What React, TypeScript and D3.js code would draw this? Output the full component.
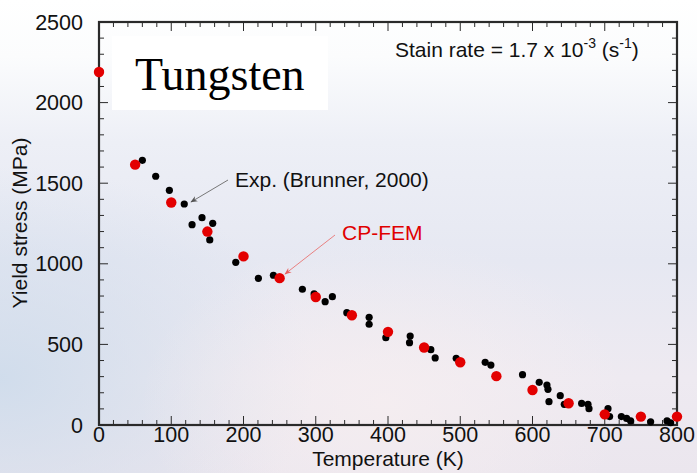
import React from "react";
import * as d3 from "d3";

const cpTemps = [0, 50, 100, 150, 200, 250, 300, 350, 400, 450, 500, 550, 600, 650, 700, 750, 800];
const cpStress = [2190, 1615, 1380, 1200, 1046, 911, 794, 681, 578, 481, 389, 303, 217, 135, 66, 52, 52];

const expTemps = [60, 78.5, 97.4, 118, 128.8, 142.6, 157.4, 153.3, 189.3, 220.6, 241.4, 281.5, 297.7, 313, 323, 343, 373.9, 373.9, 397, 430.7, 429.8, 459.3, 465.3, 494.4, 534.5, 542.4, 586.2, 609.3, 620, 621.4, 622.8, 638.4, 644, 668, 676.8, 678.2, 704.5, 706.7, 723, 730.3, 735.8, 763.5, 786.2, 791.2];
const expStress = [1642, 1543, 1456, 1371, 1243, 1286, 1251, 1148, 1009, 910, 929, 842, 813, 765, 796, 697, 668, 625, 542, 552, 511, 467, 416, 414, 389, 372, 312, 265, 248, 221, 145, 182, 128, 134, 128, 101, 101, 52, 52, 41, 25, 20, 25, 14];

const xTickLabels = [0, 100, 200, 300, 400, 500, 600, 700, 800];
const yTickLabels = [0, 500, 1000, 1500, 2000, 2500];

const W = 697, H = 473;
const M = { left: 99, right: 677, top: 22, bottom: 425 };

export default function App() {
  const x = d3.scaleLinear().domain([0, 800]).range([M.left, M.right]);
  const y = d3.scaleLinear().domain([0, 2500]).range([M.bottom, M.top]);
  const xMinor = d3.range(0, 801, 20);
  const yMinor = d3.range(0, 2501, 100);
  const font = "'Liberation Sans', Arial, sans-serif";
  const axisColor = "#2a2a2a";

  return (
    <svg width={W} height={H} style={{ position: "fixed", left: 0, top: 0, display: "block" }} fontFamily={font}>
      <defs>
        <linearGradient id="bg" x1="0" y1="0" x2="0" y2="1">
          <stop offset="0" stopColor="#ffffff" />
          <stop offset="0.12" stopColor="#fbfcfd" />
          <stop offset="0.3" stopColor="#edeff6" />
          <stop offset="0.55" stopColor="#e6e8f2" />
          <stop offset="0.8" stopColor="#eeeaf1" />
          <stop offset="1" stopColor="#ebe6ee" />
        </linearGradient>
        <radialGradient id="blueL" cx="0" cy="0.8" r="0.45">
          <stop offset="0" stopColor="#cddbeb" stopOpacity="0.9" />
          <stop offset="1" stopColor="#cddbeb" stopOpacity="0" />
        </radialGradient>
        <radialGradient id="pinkB" cx="0.55" cy="0.85" r="0.35">
          <stop offset="0" stopColor="#f6eef0" stopOpacity="0.8" />
          <stop offset="1" stopColor="#f6eef0" stopOpacity="0" />
        </radialGradient>
        <marker id="arrG" viewBox="0 0 10 10" refX="9" refY="5" markerWidth="7" markerHeight="7" orient="auto">
          <path d="M0,1 L10,5 L0,9 L3,5 Z" fill="#555" />
        </marker>
        <marker id="arrR" viewBox="0 0 10 10" refX="9" refY="5" markerWidth="7" markerHeight="7" orient="auto">
          <path d="M0,1 L10,5 L0,9 L3,5 Z" fill="#e86060" />
        </marker>
      </defs>
      <rect x={0} y={0} width={W} height={H} fill="url(#bg)" />
      <rect x={0} y={0} width={W} height={H} fill="url(#blueL)" />
      <rect x={0} y={0} width={W} height={H} fill="url(#pinkB)" />

      {/* Tungsten label box */}
      <rect x={112} y={36} width={216} height={74} fill="#ffffff" />
      <text x={135} y={90} fontFamily="'Liberation Serif', 'Times New Roman', serif" fontSize={46} fill="#000">Tungsten</text>

      {/* minor / major ticks */}
      {xMinor.map((v) => {
        const major = v % 100 === 0;
        const len = major ? 9 : 5;
        return (
          <g key={"xt" + v} stroke={axisColor} strokeWidth={1}>
            <line x1={x(v)} x2={x(v)} y1={M.bottom} y2={M.bottom - len} />
            <line x1={x(v)} x2={x(v)} y1={M.top} y2={M.top + len} />
          </g>
        );
      })}
      {yMinor.map((v) => {
        const major = v % 500 === 0;
        const len = major ? 9 : 5;
        return (
          <g key={"yt" + v} stroke={axisColor} strokeWidth={1}>
            <line x1={M.left} x2={M.left + len} y1={y(v)} y2={y(v)} />
            <line x1={M.right} x2={M.right - len} y1={y(v)} y2={y(v)} />
          </g>
        );
      })}

      {/* frame */}
      <rect x={M.left} y={M.top} width={M.right - M.left} height={M.bottom - M.top} fill="none" stroke={axisColor} strokeWidth={2.2} />

      {/* tick labels */}
      {xTickLabels.map((v) => (
        <text key={"xl" + v} x={x(v)} y={442} textAnchor="middle" fontSize={21.5} fill="#111">{v}</text>
      ))}
      {yTickLabels.map((v) => (
        <text key={"yl" + v} x={83} y={y(v) + 7.5} textAnchor="end" fontSize={21.5} fill="#111">{v}</text>
      ))}

      {/* axis titles */}
      <text x={388} y={466} textAnchor="middle" fontSize={21} fill="#111">Temperature (K)</text>
      <text transform={`translate(27,${223}) rotate(-90)`} textAnchor="middle" fontSize={21} fill="#111">Yield stress (MPa)</text>

      {/* strain rate */}
      <text x={395} y={57} fontSize={21} fill="#111">
        Stain rate = 1.7 x 10
        <tspan fontSize={14} dy={-9}>-3</tspan>
        <tspan dy={9}> (s</tspan>
        <tspan fontSize={14} dy={-9}>-1</tspan>
        <tspan dy={9}>)</tspan>
      </text>

      {/* annotations */}
      <line x1={228} y1={180} x2={191} y2={202} stroke="#777" strokeWidth={1} markerEnd="url(#arrG)" />
      <text x={235} y={187} fontSize={21} fill="#111">Exp. (Brunner, 2000)</text>
      <line x1={335} y1={235} x2={285} y2={274} stroke="#e88080" strokeWidth={1} markerEnd="url(#arrR)" />
      <text x={342} y={240} fontSize={21} fill="#e00000">CP-FEM</text>

      {/* data */}
      {expTemps.map((t, i) => (
        <circle key={"e" + i} cx={x(t)} cy={y(expStress[i])} r={3.6} fill="#000" />
      ))}
      {cpTemps.map((t, i) => (
        <circle key={"c" + i} cx={x(t)} cy={y(cpStress[i])} r={5.2} fill="#e30000" />
      ))}
    </svg>
  );
}
